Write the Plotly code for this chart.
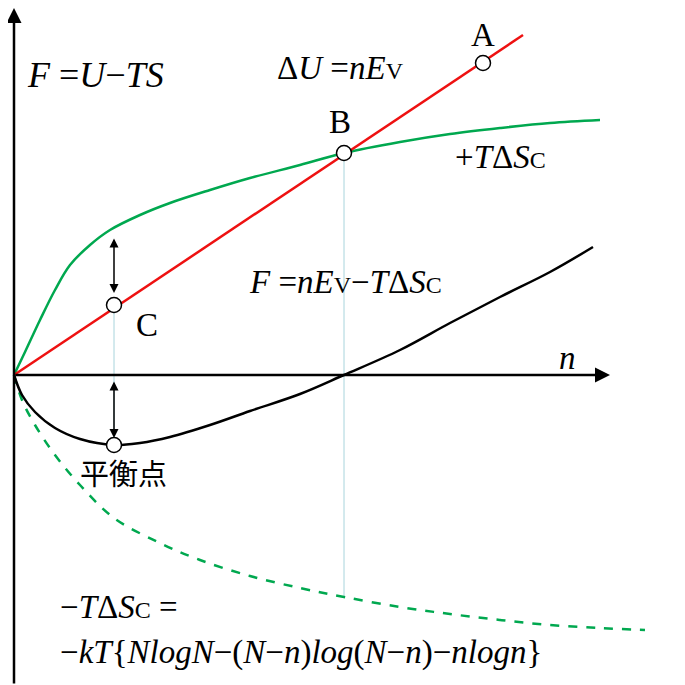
import plotly.graph_objects as go

# pixel-like coordinates (y grows downward)
red_x = [14, 523]
red_y = [375, 35]
green_x = [14, 25, 40, 55, 70, 90, 110, 140, 170, 210, 250, 300, 344, 400, 450, 500, 550, 600]
green_y = [375, 352, 320, 290, 265, 245, 230, 215, 203, 190, 178, 165, 153, 142, 134, 128, 123, 120]
black_x = [14, 22, 35, 55, 80, 114, 140, 170, 210, 250, 300, 344, 400, 450, 500, 550, 593]
black_y = [375, 395, 412, 428, 439, 445, 443, 437, 425, 411, 394, 375, 350, 323, 297, 272, 247]
dash_x = [14, 22, 35, 55, 80, 114, 160, 200, 250, 300, 344, 400, 450, 500, 550, 600, 645]
dash_y = [375, 400, 425, 455, 485, 518, 543, 560, 576, 588, 597, 607, 614, 620, 625, 628, 630]
pts_x = [483, 344, 114, 114]
pts_y = [63, 153, 305, 445]

fig = go.Figure()
fig.add_trace(go.Scatter(x=[114, 114], y=[305, 445], mode="lines", line=dict(color="#a8d4dc", width=1)))
fig.add_trace(go.Scatter(x=[344, 344], y=[153, 597], mode="lines", line=dict(color="#a8d4dc", width=1)))
fig.add_trace(go.Scatter(x=dash_x, y=dash_y, mode="lines", line=dict(color="#00a84f", width=2.5, dash="dash", shape="spline")))
fig.add_trace(go.Scatter(x=green_x, y=green_y, mode="lines", line=dict(color="#00a84f", width=2.5, shape="spline")))
fig.add_trace(go.Scatter(x=red_x, y=red_y, mode="lines", line=dict(color="#ee1111", width=2.5)))
fig.add_trace(go.Scatter(x=black_x, y=black_y, mode="lines", line=dict(color="black", width=2.5, shape="spline")))
fig.add_trace(go.Scatter(x=pts_x, y=pts_y, mode="markers",
                         marker=dict(size=15, color="white", line=dict(color="black", width=1.5))))

ann = []
def arrow(x0, y0, x1, y1, both=False):
    ann.append(dict(x=x1, y=y1, ax=x0, ay=y0, xref="x", yref="y", axref="x", ayref="y",
                    showarrow=True, arrowhead=2, arrowsize=1.2, arrowwidth=2.5 if not both else 1.5,
                    arrowcolor="black", arrowside="end+start" if both else "end", text=""))
arrow(14, 685, 14, 8)
arrow(14, 375, 610, 375)
arrow(114, 237, 114, 293, both=True)
arrow(114, 380, 114, 438, both=True)

serif = "Liberation Serif, Times New Roman, serif"
def txt(x, y, s, size=36, family=serif, anchor="left"):
    ann.append(dict(x=x, y=y, text=s, showarrow=False, xref="x", yref="y", xanchor=anchor,
                    font=dict(family=family, size=size, color="black")))

sub = "<span style='font-size:24px'>%s</span>"
txt(25, 75, "<i>F</i> =<i>U</i>−<i>TS</i>")
txt(275, 68, "Δ<i>U</i> =<i>nE</i>" + sub % "V", size=33)
txt(483, 35, "A", size=33, anchor="center")
txt(340, 122, "B", size=33, anchor="center")
txt(134, 325, "C", size=33)
txt(453, 157, "+<i>T</i>Δ<i>S</i>" + sub % "C", size=33)
txt(247, 282, "<i>F</i> =<i>nE</i>" + sub % "V" + "−<i>T</i>Δ<i>S</i>" + sub % "C", size=33)
txt(567, 358, "<i>n</i>", size=33, anchor="center")
txt(78, 472, "平衡点", size=29, family="Noto Sans CJK JP")
txt(58, 607, "−<i>T</i>Δ<i>S</i>" + sub % "C" + " =", size=33)
txt(58, 652, "−<i>kT</i>{<i>NlogN</i>−(<i>N</i>−<i>n</i>)<i>log</i>(<i>N</i>−<i>n</i>)−<i>nlogn</i>}", size=33)

# page body has an 8px margin; shift ranges so data coordinates match pixels
fig.update_layout(width=677, height=677, margin=dict(l=0, r=0, t=0, b=0),
                  plot_bgcolor="white", paper_bgcolor="white", showlegend=False,
                  annotations=ann)
fig.update_xaxes(range=[8, 685], visible=False)
fig.update_yaxes(range=[685, 8], visible=False)
fig.write_html("out.html")
